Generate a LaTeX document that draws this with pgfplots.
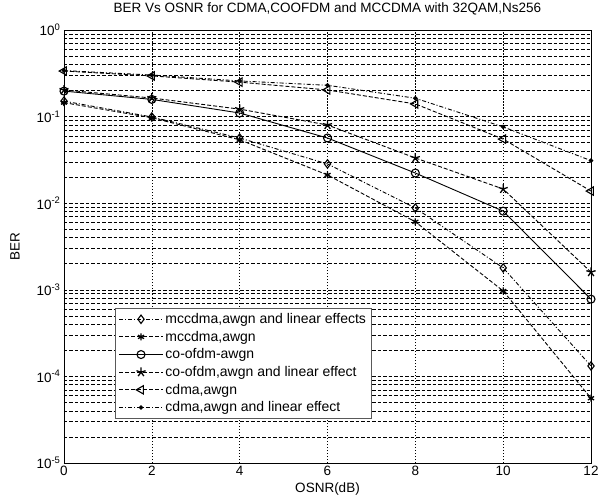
\documentclass[border=0pt]{standalone}
\usepackage{pgfplots}
\pgfplotsset{compat=1.18}
\usepackage{fontspec}
\setmainfont{Liberation Sans}
\begin{document}
\begin{tikzpicture}
\begin{axis}[
  scale only axis,
  width=527pt, height=433pt,
  ymode=log,
  xmin=0, xmax=12, ymin=1e-5, ymax=1,
  xtick={0,2,4,6,8,10,12},
  ytick={1e-5,1e-4,1e-3,1e-2,1e-1,1},
  yticklabels={10\textsuperscript{-5},10\textsuperscript{-4},10\textsuperscript{-3},10\textsuperscript{-2},10\textsuperscript{-1},10\textsuperscript{0}},
  /pgf/number format/assume math mode=true,
  tick label style={font=\fontsize{13.5}{15}\selectfont},
  label style={font=\fontsize{13.5}{15}\selectfont},
  title style={font=\fontsize{13.5}{15}\selectfont, at={(axis description cs:0.5,1.035)}, anchor=center},
  title={BER Vs OSNR for CDMA,COOFDM and MCCDMA with 32QAM,Ns256},
  xlabel={OSNR(dB)}, ylabel={BER},
  xlabel style={at={(axis description cs:0.5,-0.06)}, anchor=center},
  ylabel style={at={(axis description cs:-0.093,0.5)}, anchor=center},
  grid=both,
  x grid style={black, line width=0.6pt, dash pattern=on 1.5pt off 1.5pt},
  y grid style={black, line width=0.6pt, dash pattern=on 3.5pt off 2pt},
  minor x tick num=0,
  major tick length=0pt, minor tick length=0pt,
  axis line style={black, line width=0.9pt},
  legend style={at={(0.097,0.358)}, anchor=north west, draw=gray!70!black, fill=white,
    font=\fontsize{14}{15}\selectfont, row sep=2pt, inner sep=3pt, line width=0.9pt},
  legend cell align=left,
  legend image code/.code={\draw[mark repeat=2,mark phase=2] plot coordinates {(0pt,0pt)(22pt,0pt)(44pt,0pt)};},
  every axis plot/.append style={black, line width=0.9pt},
]
\coordinate (bl) at (rel axis cs:0,0);
\coordinate (tr) at (rel axis cs:1,1);
\addplot[dash pattern=on 4pt off 2pt on 1pt off 2pt, mark=diamond, mark size=4.2pt, mark options={solid, fill=white, line width=1.1pt}]
 coordinates {(0,0.151)(2,0.099)(4,0.0566)(6,0.0284)(8,0.0088)(10,0.00179)(12,0.000132)};
\addlegendentry{mccdma,awgn and linear effects}
\addplot[dash pattern=on 4pt off 2pt, mark=asterisk, mark size=3.5pt, mark options={solid, line width=1.3pt}]
 coordinates {(0,0.145)(2,0.097)(4,0.054)(6,0.0212)(8,0.0061)(10,0.00097)(12,0.000056)};
\addlegendentry{mccdma,awgn}
\addplot[solid, mark=o, mark size=4pt, mark options={solid, fill=white, line width=1.1pt}]
 coordinates {(0,0.197)(2,0.158)(4,0.11)(6,0.0566)(8,0.0223)(10,0.0081)(12,0.00078)};
\addlegendentry{co-ofdm-awgn}
\addplot[dash pattern=on 4pt off 2pt, mark=star, mark size=4.8pt, mark options={solid, line width=1.3pt}]
 coordinates {(0,0.203)(2,0.164)(4,0.122)(6,0.080)(8,0.0333)(10,0.0146)(12,0.0016)};
\addlegendentry{co-ofdm,awgn and linear effect}
\addplot[dash pattern=on 4pt off 2pt, mark=triangle, mark size=4.8pt, mark options={solid, rotate=90, fill=white, line width=1.1pt}]
 coordinates {(0,0.336)(2,0.295)(4,0.25)(6,0.203)(8,0.14)(10,0.055)(12,0.0138)};
\addlegendentry{cdma,awgn}
\addplot[dash pattern=on 4pt off 2pt on 1pt off 2pt, mark=*, mark size=1.8pt, mark options={solid}]
 coordinates {(0,0.34)(2,0.302)(4,0.258)(6,0.23)(8,0.163)(10,0.076)(12,0.031)};
\addlegendentry{cdma,awgn and linear effect}
\end{axis}
\pgfresetboundingbox
\path ([shift={(-64pt,-32pt)}]bl) rectangle ([shift={(8pt,30pt)}]tr);
\end{tikzpicture}
\end{document}
